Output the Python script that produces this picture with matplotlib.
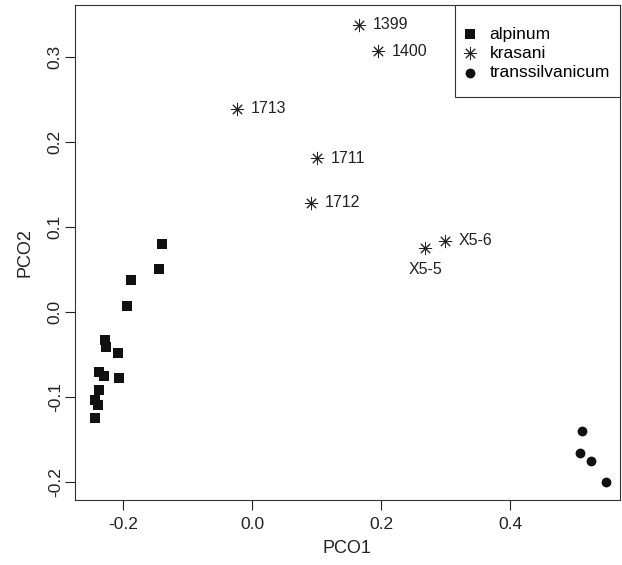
import matplotlib
matplotlib.use("Agg")
import matplotlib.pyplot as plt
from matplotlib.patches import Rectangle

plt.rcParams['font.family'] = ['Liberation Sans', 'DejaVu Sans']

# Data (PCO scores)
alpinum_x = [-0.1395, -0.1441, -0.1880, -0.1938, -0.2289, -0.2264, -0.2077,
             -0.2372, -0.2295, -0.2062, -0.2372, -0.2434, -0.2397, -0.2434]
alpinum_y = [0.0796, 0.0502, 0.0372, 0.0066, -0.0331, -0.0410, -0.0488,
             -0.0704, -0.0751, -0.0782, -0.0924, -0.1038, -0.1100, -0.1254]

krasani_labels = ['1399', '1400', '1713', '1711', '1712', 'X5-5', 'X5-6']
krasani_x = [0.1657, 0.1947, -0.0231, 0.1010, 0.0912, 0.2686, 0.2990]
krasani_y = [0.3380, 0.3066, 0.2390, 0.1810, 0.1287, 0.0749, 0.0839]

transs_x = [0.512, 0.509, 0.526, 0.549]
transs_y = [-0.140, -0.1666, -0.1755, -0.2002]

fig = plt.figure(figsize=(6.22, 5.65), dpi=100)
ax = fig.add_axes([0.120, 0.115, 0.877, 0.876])

ax.scatter(alpinum_x, alpinum_y, marker='s', s=60, color='#111111',
           linewidths=0, label='alpinum')
ax.scatter(krasani_x, krasani_y, marker=(8, 2, 0), s=80, color='#222222',
           linewidths=0.7, label='krasani')
ax.scatter(transs_x, transs_y, marker='o', s=50, color='#111111',
           linewidths=0, label='transsilvanicum')

# Point labels
for lab, x, y in zip(krasani_labels, krasani_x, krasani_y):
    if lab == 'X5-5':
        ax.annotate(lab, (x, y), xytext=(0, -10), textcoords='offset points',
                    ha='center', va='top', fontsize=11.5, color='#222222')
    else:
        ax.annotate(lab, (x, y), xytext=(10, 0), textcoords='offset points',
                    ha='left', va='center', fontsize=11.5, color='#222222')

ax.set_xlim(-0.2754, 0.5707)
ax.set_ylim(-0.2216, 0.3612)
ax.set_xticks([-0.2, 0.0, 0.2, 0.4])
ax.set_xticklabels(['-0.2', '0.0', '0.2', '0.4'])
ax.set_yticks([-0.2, -0.1, 0.0, 0.1, 0.2, 0.3])
ax.set_yticklabels(['-0.2', '-0.1', '0.0', '0.1', '0.2', '0.3'],
                   rotation=90, va='center')
ax.tick_params(direction='out', length=7, width=0.8, labelsize=12.5,
               colors='#222222', pad=1.5)
ax.tick_params(axis='x', pad=5)

for sp in ax.spines.values():
    sp.set_linewidth(0.8)
    sp.set_color('#333333')

ax.set_xlabel('PCO1', fontsize=13, color='#222222', labelpad=6)
ax.set_ylabel('PCO2', fontsize=13, color='#222222', labelpad=10)

# Legend box (R style: taller padding than matplotlib's)
ax.add_patch(Rectangle((0.6974, 0.8146), 0.3026, 0.1854, transform=ax.transAxes,
                       facecolor='white', edgecolor='#333333', linewidth=0.8,
                       zorder=4, clip_on=False))
leg = ax.legend(loc='center', bbox_to_anchor=(0.8487, 0.9026), frameon=False,
                fontsize=12.5, handletextpad=0.9, labelspacing=0.24,
                borderpad=0, handlelength=0.5, scatterpoints=1)
leg.set_zorder(5)

plt.savefig('out.png', dpi=100)
